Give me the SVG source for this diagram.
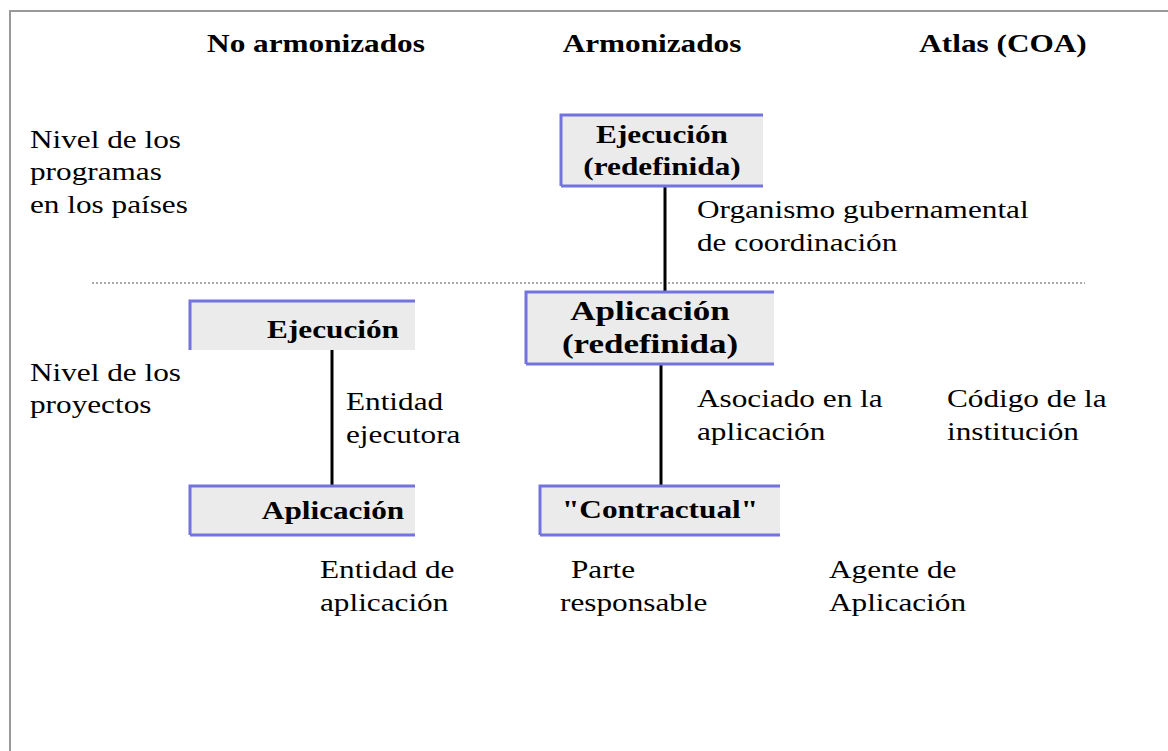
<svg xmlns="http://www.w3.org/2000/svg" width="1168" height="751" viewBox="0 0 1168 751">
<style>
.t{font-family:"Liberation Serif","Times New Roman",serif;font-size:25px;fill:#000}
.b{font-weight:bold}
.m{text-anchor:middle}
.box{fill:#ebebeb}
.edge{stroke:#7373e0;stroke-width:3;fill:none}
.con{stroke:#000;stroke-width:3;fill:none}
</style>
<rect width="1168" height="751" fill="#fff"/>
<path d="M10 751 V11 H1168" fill="none" stroke="#999" stroke-width="2"/>
<line x1="92" y1="283" x2="1085" y2="283" stroke="#aaa" stroke-width="2" stroke-dasharray="2 2"/>
<g id="headers">
<text class="t b m" transform="translate(316,52) scale(1.25,1)">No armonizados</text>
<text class="t b m" transform="translate(652,52) scale(1.25,1)">Armonizados</text>
<text class="t b m" transform="translate(1003,52) scale(1.25,1)">Atlas (COA)</text>
</g>
<g id="levels">
<text class="t" transform="translate(30,148) scale(1.25,1)">Nivel de los</text>
<text class="t" transform="translate(30,180) scale(1.25,1)">programas</text>
<text class="t" transform="translate(30,213) scale(1.25,1)">en los países</text>
<text class="t" transform="translate(30,381) scale(1.25,1)">Nivel de los</text>
<text class="t" transform="translate(30,413) scale(1.25,1)">proyectos</text>
</g>
<g id="connectors">
<line class="con" x1="665" y1="186" x2="665" y2="292"/>
<line class="con" x1="332" y1="350" x2="332" y2="486"/>
<line class="con" x1="661" y1="364" x2="661" y2="486"/>
</g>
<g id="node-ejecucion-redefinida">
<rect class="box" x="561" y="115" width="202" height="71"/>
<path class="edge" d="M561 186 V115 H763 M561 186 H763"/>
<text class="t b m" transform="translate(662,143) scale(1.25,1)">Ejecución</text>
<text class="t b m" transform="translate(662,175) scale(1.25,1)">(redefinida)</text>
</g>
<g id="node-ejecucion">
<rect class="box" x="190" y="301" width="225" height="49"/>
<path class="edge" d="M190 350 V301 H415"/>
<text class="t b m" transform="translate(333,338) scale(1.25,1)">Ejecución</text>
</g>
<g id="node-aplicacion-redefinida">
<rect class="box" x="526" y="292" width="248" height="72"/>
<path class="edge" d="M526 364 V292 H774 M526 364 H774"/>
<text class="t b m" style="font-size:28px" transform="translate(650,320) scale(1.25,1)">Aplicación</text>
<text class="t b m" style="font-size:28px" transform="translate(650,353) scale(1.25,1)">(redefinida)</text>
</g>
<g id="node-aplicacion">
<rect class="box" x="190" y="486" width="225" height="49"/>
<path class="edge" d="M190 535 V486 H415 M190 535 H415"/>
<text class="t b m" transform="translate(333,519) scale(1.25,1)">Aplicación</text>
</g>
<g id="node-contractual">
<rect class="box" x="540" y="486" width="240" height="49"/>
<path class="edge" d="M540 535 V486 H780 M540 535 H780"/>
<text class="t b m" transform="translate(660,518) scale(1.25,1)">"Contractual"</text>
</g>
<g id="labels">
<text class="t" transform="translate(697,218) scale(1.25,1)">Organismo gubernamental</text>
<text class="t" transform="translate(697,251) scale(1.25,1)">de coordinación</text>
<text class="t" transform="translate(346,410) scale(1.25,1)">Entidad</text>
<text class="t" transform="translate(346,443) scale(1.25,1)">ejecutora</text>
<text class="t" transform="translate(697,407) scale(1.25,1)">Asociado en la</text>
<text class="t" transform="translate(697,440) scale(1.25,1)">aplicación</text>
<text class="t" transform="translate(947,407) scale(1.25,1)">Código de la</text>
<text class="t" transform="translate(947,440) scale(1.25,1)">institución</text>
<text class="t" transform="translate(320,578) scale(1.25,1)">Entidad de</text>
<text class="t" transform="translate(320,611) scale(1.25,1)">aplicación</text>
<text class="t m" transform="translate(603,578) scale(1.25,1)">Parte</text>
<text class="t" transform="translate(560,611) scale(1.25,1)">responsable</text>
<text class="t" transform="translate(829,578) scale(1.25,1)">Agente de</text>
<text class="t" transform="translate(829,611) scale(1.25,1)">Aplicación</text>
</g>
</svg>
